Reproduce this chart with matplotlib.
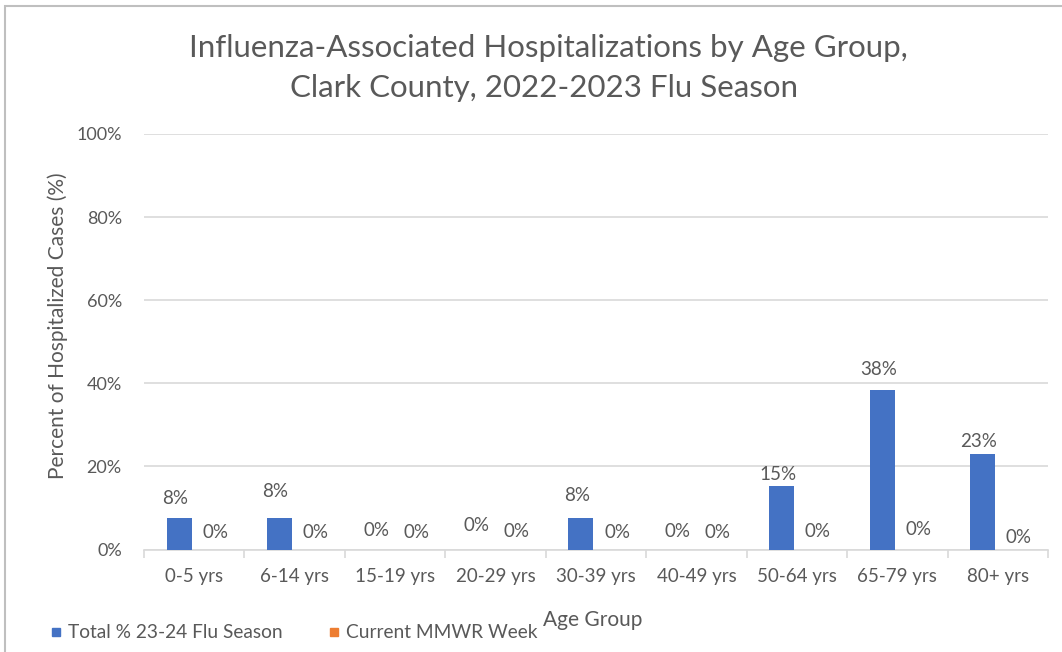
import numpy as np
import matplotlib.pyplot as plt
from matplotlib.lines import Line2D
from matplotlib.patches import Rectangle

plt.rcParams['font.family'] = ['Lato', 'DejaVu Sans']

# data
age_groups = ["0-5 yrs", "6-14 yrs", "15-19 yrs", "20-29 yrs", "30-39 yrs",
              "40-49 yrs", "50-64 yrs", "65-79 yrs", "80+ yrs"]
season_pct = [7.7, 7.7, 0, 0, 7.7, 0, 15.4, 38.5, 23.1]
week_pct = [0, 0, 0, 0, 0, 0, 0, 0, 0]
series_names = ["Total % 23-24 Flu Season", "Current MMWR Week"]

# label nudges (pixels above the bar top), the labels in the original are hand placed
season_dy = [19, 26, 19, 24, 22, 18, 11, 20, 12]
week_dy = [17, 17, 17, 18, 17, 17, 18, 20, 12]

blue = "#4472C4"
orange = "#ED7D31"
grey_txt = "#595959"
grid_c = "#D9D9D9"

fig = plt.figure(figsize=(10.62, 6.52), dpi=100)
ax = fig.add_axes([144 / 1062, 1 - 549.5 / 652, 904 / 1062, 415.5 / 652])

# chart frame like the excel screenshot
fig.add_artist(Rectangle((5 / 1062, -0.01), 1.1, 1 - 6 / 652 + 0.01,
                         transform=fig.transFigure, fill=False,
                         edgecolor="#BFBFBF", lw=1.5))

x = np.arange(len(age_groups))
w = 0.25
off = 0.15
b1 = ax.bar(x - off, season_pct, w, color=blue, zorder=3)
b2 = ax.bar(x + off, week_pct, w, color=orange, zorder=3)

for rect, v, dy in zip(b1, season_pct, season_dy):
    ax.annotate(f"{v:.0f}%", (rect.get_x() + rect.get_width() / 2, v),
                xytext=(-4, dy), textcoords="offset pixels", ha="center",
                va="center", fontsize=13.5, color=grey_txt)
for rect, v, dy in zip(b2, week_pct, week_dy):
    ax.annotate(f"{v:.0f}%", (rect.get_x() + rect.get_width() / 2, v),
                xytext=(6, dy), textcoords="offset pixels", ha="center",
                va="center", fontsize=13.5, color=grey_txt)

ax.set_xlim(-0.5, len(age_groups) - 0.5)
ax.set_ylim(0, 100)
ax.set_yticks(np.arange(0, 101, 20))
ax.set_yticklabels([f"{t}%" for t in range(0, 101, 20)])
ax.yaxis.grid(True, color=grid_c, lw=1.2, zorder=0)
ax.tick_params(axis="y", length=0, pad=16, labelsize=13, labelcolor=grey_txt)

ax.set_xticks(x)
ax.set_xticklabels(age_groups)
ax.tick_params(axis="x", length=0, pad=13, labelsize=13.5, labelcolor=grey_txt)
ax.set_xticks(np.arange(-0.5, len(age_groups)), minor=True)
ax.tick_params(axis="x", which="minor", length=6, color=grid_c, width=1.2)

for s in ["top", "right", "left"]:
    ax.spines[s].set_visible(False)
ax.spines["bottom"].set_color(grid_c)
ax.spines["bottom"].set_linewidth(1.2)

ax.set_xlabel("Age Group", fontsize=15, color=grey_txt)
ax.xaxis.set_label_coords(0.496, -0.1456)
ax.set_ylabel("Percent of Hospitalized Cases (%)", fontsize=15,
              color=grey_txt, va="center")
ax.yaxis.set_label_coords(-0.096, 0.538)

fig.text(0.516, 0.926, "Influenza-Associated Hospitalizations by Age Group,",
         ha="center", va="center", fontsize=22.5, color=grey_txt)
fig.text(0.512, 0.865, "Clark County, 2022-2023 Flu Season",
         ha="center", va="center", fontsize=22.5, color=grey_txt)

handles = [Line2D([], [], marker="s", ls="", color=c, markersize=6)
           for c in (blue, orange)]
fig.legend(handles, series_names, loc="center left",
           bbox_to_anchor=(0.035, 1 - 633 / 652), ncol=2, frameon=False,
           fontsize=13.8, labelcolor=grey_txt, handletextpad=0.1,
           columnspacing=2.2, handlelength=1.0, borderpad=0)

fig.savefig("out.png", dpi=100)
